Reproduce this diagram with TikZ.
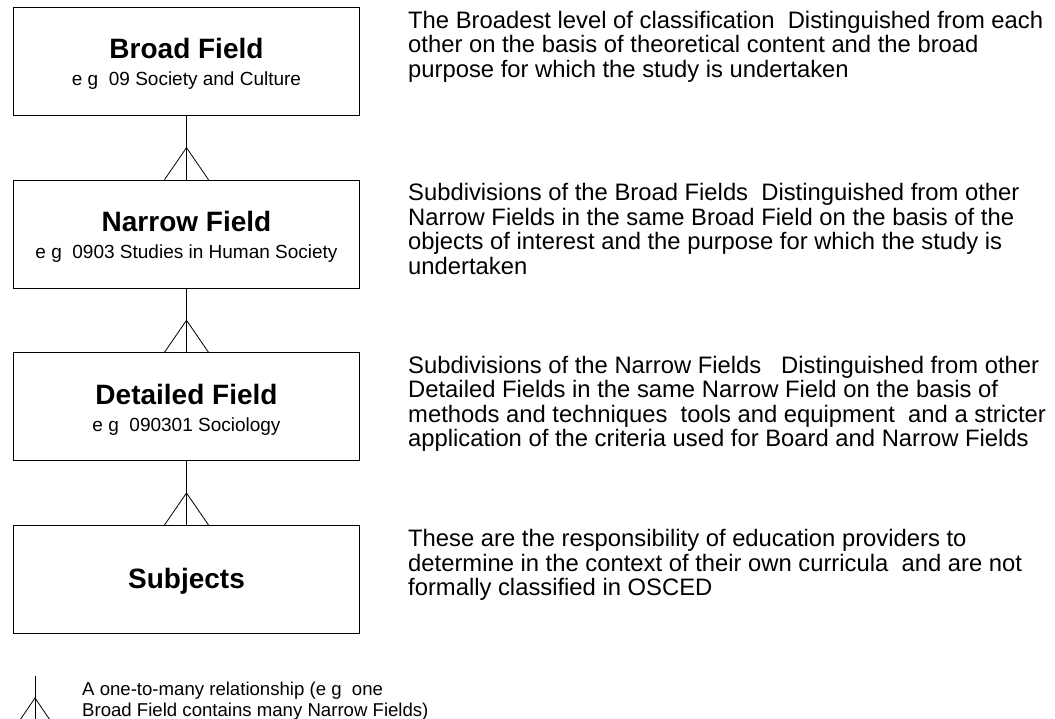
\documentclass[tikz,border=0pt]{standalone}
\usepackage{fontspec}
\setmainfont{Liberation Sans}
\begin{document}
\begin{tikzpicture}[x=1pt,y=1pt,
  box/.style={draw=black, line width=1pt, minimum width=346pt, minimum height=108pt, inner sep=0pt, anchor=north west},
  ttl/.style={font=\fontsize{28}{30}\selectfont\bfseries, inner sep=0pt, anchor=base},
  sub/.style={font=\fontsize{19}{22}\selectfont, inner sep=0pt, anchor=base},
  desc/.style={font=\fontsize{23.8}{24.5}\selectfont, align=left, inner sep=0pt, anchor=base west},
  legtxt/.style={font=\fontsize{18.6}{21}\selectfont, align=left, inner sep=0pt, anchor=base west},
  link/.style={line width=0.8pt, black},
]
\useasboundingbox (0,0) rectangle (1055,-719);

% boxes
\node[box] (broad)    at (13,-7) {};
\node[box] (narrow)   at (13,-179.7) {};
\node[box] (detailed) at (13,-352.3) {};
\node[box] (subjects) at (13,-525) {};

% box texts
\node[ttl] (broadT) at ([yshift=-52pt]broad.north) {Broad Field};
\node[sub] (broadS) at ([yshift=-79pt]broad.north) {e\phantom{.}g\phantom{.} 09 Society and Culture};
\node[ttl] (narrowT) at ([yshift=-52pt]narrow.north) {Narrow Field};
\node[sub] (narrowS) at ([yshift=-79pt]narrow.north) {e\phantom{.}g\phantom{.} 0903 Studies in Human Society};
\node[ttl] (detailedT) at ([yshift=-52pt]detailed.north) {Detailed Field};
\node[sub] (detailedS) at ([yshift=-79pt]detailed.north) {e\phantom{.}g\phantom{.} 090301 Sociology};
\node[ttl] (subjectsT) at ([yshift=-63pt]subjects.north) {Subjects};

% connectors with crow's feet
\foreach \a/\b in {broad/narrow, narrow/detailed, detailed/subjects}{
  \draw[link] (\a.south) -- (\b.north);
  \draw[link] ([xshift=-22pt]\b.north) -- ([yshift=32pt]\b.north) -- ([xshift=22pt]\b.north);
}

% descriptions (anchor = baseline of the last line)
\node[desc] (d1) at (408,-77.5) {The Broadest level of classification\phantom{.} Distinguished from each\\
other on the basis of theoretical content and the broad\\
purpose for which the study is undertaken};
\node[desc] (d2) at (408,-274.5) {Subdivisions of the Broad Fields\phantom{.} Distinguished from other\\
Narrow Fields in the same Broad Field on the basis of the\\
objects of interest and the purpose for which the study is\\
undertaken};
\node[desc] (d3) at (408,-446.5) {Subdivisions of the Narrow Fields\phantom{.}\ \ Distinguished from other\\
Detailed Fields in the same Narrow Field on the basis of\\
methods and techniques\phantom{,} tools and equipment\phantom{,} and a stricter\\
application of the criteria used for Board and Narrow Fields};
\node[desc] (d4) at (408,-595.5) {These are the responsibility of education providers to\\
determine in the context of their own curricula\phantom{,} and are not\\
formally classified in OSCED};

% legend
\coordinate (lgtop) at (35,-676);
\coordinate (lgapex) at (35,-698);
\coordinate (lgbot) at (35,-722);
\coordinate (lgleft) at (20,-720);
\coordinate (lgright) at (50,-720);
\draw[link] (lgtop) -- (lgbot);
\draw[link] (lgleft) -- (lgapex) -- (lgright);
\node[legtxt] (leg) at (82,-716) {A one-to-many relationship (e\phantom{.}g\phantom{.} one\\
Broad Field contains many Narrow Fields)};
\end{tikzpicture}
\end{document}
